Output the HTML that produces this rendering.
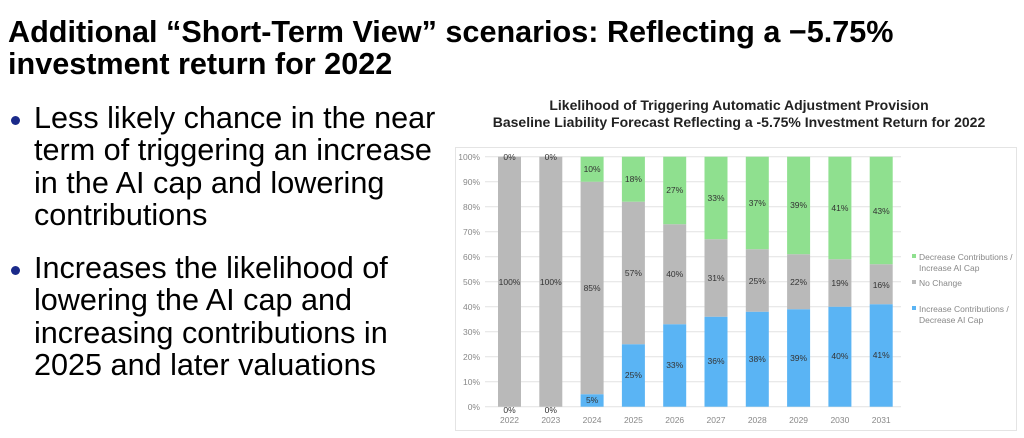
<!DOCTYPE html>
<html><head><meta charset="utf-8"><style>
body{margin:0;width:1024px;height:438px;background:#fff;overflow:hidden;font-family:"Liberation Sans",Arial,sans-serif;position:relative}
.t{position:absolute;left:8px;top:16px;font-weight:bold;font-size:30.6px;line-height:32px;color:#000;white-space:nowrap}
.b{position:absolute;left:34px;font-size:30.6px;line-height:32.3px;color:#000;white-space:nowrap}
.d{position:absolute;left:11px;width:9px;height:9px;border-radius:50%;background:#1a2a8a}
</style></head><body>
<div class="t">Additional “Short-Term View” scenarios: Reflecting a −5.75%<br>investment return for 2022</div>
<div class="d" style="top:116px"></div>
<div class="b" style="top:102px">Less likely chance in the near<br>term of triggering an increase<br>in the AI cap and lowering<br>contributions</div>
<div class="d" style="top:266px"></div>
<div class="b" style="top:252px">Increases the likelihood of<br>lowering the AI cap and<br>increasing contributions in<br>2025 and later valuations</div>
<svg width="1024" height="438" style="position:absolute;left:0;top:0" font-family="Liberation Sans, Arial, sans-serif">
<g font-weight="bold" font-size="14" fill="#222" text-anchor="middle">
<text x="739" y="110">Likelihood of Triggering Automatic Adjustment Provision</text>
<text x="739" y="127">Baseline Liability Forecast Reflecting a -5.75% Investment Return for 2022</text>
</g>
<rect x="455.5" y="147.5" width="561" height="283" fill="none" stroke="#e4e4e4"/>
<g stroke="#e2e2e2" stroke-width="1">
<line x1="485" x2="901" y1="156.7" y2="156.7"/><line x1="485" x2="901" y1="181.7" y2="181.7"/><line x1="485" x2="901" y1="206.7" y2="206.7"/><line x1="485" x2="901" y1="231.7" y2="231.7"/><line x1="485" x2="901" y1="256.7" y2="256.7"/><line x1="485" x2="901" y1="281.7" y2="281.7"/><line x1="485" x2="901" y1="306.7" y2="306.7"/><line x1="485" x2="901" y1="331.7" y2="331.7"/><line x1="485" x2="901" y1="356.7" y2="356.7"/><line x1="485" x2="901" y1="381.7" y2="381.7"/><line x1="485" x2="901" y1="406.7" y2="406.7"/>
</g>
<g font-size="8.5" fill="#888" text-anchor="end">
<text x="480" y="160">100%</text><text x="480" y="185">90%</text><text x="480" y="210">80%</text><text x="480" y="235">70%</text><text x="480" y="260">60%</text><text x="480" y="285">50%</text><text x="480" y="310">40%</text><text x="480" y="335">30%</text><text x="480" y="360">20%</text><text x="480" y="385">10%</text><text x="480" y="410">0%</text>
</g>
<g>
<rect x="498" y="156.7" width="23" height="250" fill="#b9b9b9"/>
<rect x="539.3" y="156.7" width="23" height="250" fill="#b9b9b9"/>
<rect x="580.6" y="394.2" width="23" height="12.5" fill="#5ab4f4"/>
<rect x="580.6" y="181.7" width="23" height="212.5" fill="#b9b9b9"/>
<rect x="580.6" y="156.7" width="23" height="25" fill="#8fe08f"/>
<rect x="621.9" y="344.2" width="23" height="62.5" fill="#5ab4f4"/>
<rect x="621.9" y="201.7" width="23" height="142.5" fill="#b9b9b9"/>
<rect x="621.9" y="156.7" width="23" height="45" fill="#8fe08f"/>
<rect x="663.2" y="324.2" width="23" height="82.5" fill="#5ab4f4"/>
<rect x="663.2" y="224.2" width="23" height="100" fill="#b9b9b9"/>
<rect x="663.2" y="156.7" width="23" height="67.5" fill="#8fe08f"/>
<rect x="704.5" y="316.7" width="23" height="90" fill="#5ab4f4"/>
<rect x="704.5" y="239.2" width="23" height="77.5" fill="#b9b9b9"/>
<rect x="704.5" y="156.7" width="23" height="82.5" fill="#8fe08f"/>
<rect x="745.8" y="311.7" width="23" height="95" fill="#5ab4f4"/>
<rect x="745.8" y="249.2" width="23" height="62.5" fill="#b9b9b9"/>
<rect x="745.8" y="156.7" width="23" height="92.5" fill="#8fe08f"/>
<rect x="787.1" y="309.2" width="23" height="97.5" fill="#5ab4f4"/>
<rect x="787.1" y="254.2" width="23" height="55" fill="#b9b9b9"/>
<rect x="787.1" y="156.7" width="23" height="97.5" fill="#8fe08f"/>
<rect x="828.4" y="306.7" width="23" height="100" fill="#5ab4f4"/>
<rect x="828.4" y="259.2" width="23" height="47.5" fill="#b9b9b9"/>
<rect x="828.4" y="156.7" width="23" height="102.5" fill="#8fe08f"/>
<rect x="869.7" y="304.2" width="23" height="102.5" fill="#5ab4f4"/>
<rect x="869.7" y="264.2" width="23" height="40" fill="#b9b9b9"/>
<rect x="869.7" y="156.7" width="23" height="107.5" fill="#8fe08f"/>
</g>
<g font-size="8.5" fill="#333" text-anchor="middle">
<text x="509.5" y="160">0%</text><text x="509.5" y="285">100%</text><text x="509.5" y="413">0%</text>
<text x="550.8" y="160">0%</text><text x="550.8" y="285">100%</text><text x="550.8" y="413">0%</text>
<text x="592.1" y="172">10%</text><text x="592.1" y="291">85%</text><text x="592.1" y="403">5%</text>
<text x="633.4" y="182">18%</text><text x="633.4" y="276">57%</text><text x="633.4" y="378">25%</text>
<text x="674.7" y="193">27%</text><text x="674.7" y="277">40%</text><text x="674.7" y="368">33%</text>
<text x="716" y="201">33%</text><text x="716" y="281">31%</text><text x="716" y="364">36%</text>
<text x="757.3" y="206">37%</text><text x="757.3" y="284">25%</text><text x="757.3" y="362">38%</text>
<text x="798.6" y="208">39%</text><text x="798.6" y="285">22%</text><text x="798.6" y="361">39%</text>
<text x="839.9" y="211">41%</text><text x="839.9" y="286">19%</text><text x="839.9" y="359">40%</text>
<text x="881.2" y="214">43%</text><text x="881.2" y="288">16%</text><text x="881.2" y="358">41%</text>
</g>
<g font-size="8.5" fill="#888" text-anchor="middle">
<text x="509.5" y="423">2022</text><text x="550.8" y="423">2023</text><text x="592.1" y="423">2024</text><text x="633.4" y="423">2025</text><text x="674.7" y="423">2026</text><text x="716" y="423">2027</text><text x="757.3" y="423">2028</text><text x="798.6" y="423">2029</text><text x="839.9" y="423">2030</text><text x="881.2" y="423">2031</text>
</g>
<g font-size="8.5" fill="#888">
<rect x="912" y="254" width="4" height="4" fill="#8fe08f"/>
<text x="919" y="260">Decrease Contributions /</text><text x="919" y="271">Increase AI Cap</text>
<rect x="912" y="280" width="4" height="4" fill="#b9b9b9"/>
<text x="919" y="286">No Change</text>
<rect x="912" y="306" width="4" height="4" fill="#5ab4f4"/>
<text x="919" y="312">Increase Contributions /</text><text x="919" y="323">Decrease AI Cap</text>
</g>
</svg>
</body></html>
